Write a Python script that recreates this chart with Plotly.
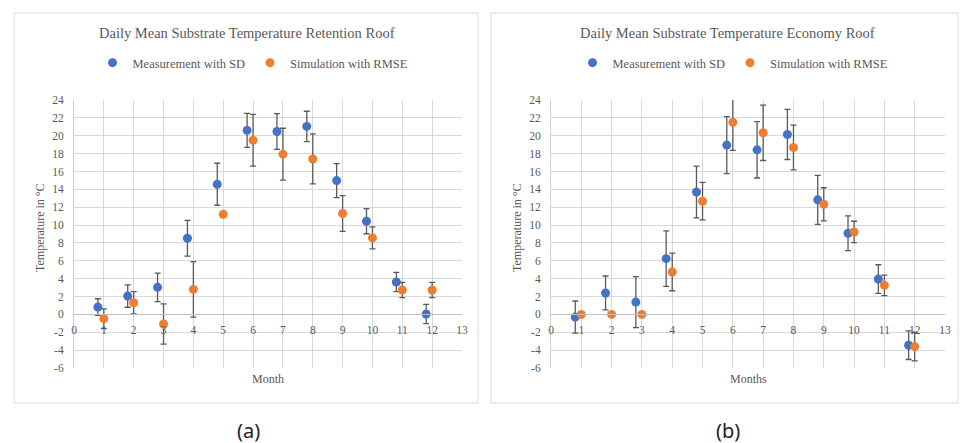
import plotly.graph_objects as go

# ---------------- data ----------------
months = [1, 2, 3, 4, 5, 6, 7, 8, 9, 10, 11, 12]
meas_months = [0.8, 1.8, 2.8, 3.8, 4.8, 5.8, 6.8, 7.8, 8.8, 9.8, 10.8, 11.8]

ret_meas = [0.82, 2.05, 3.03, 8.52, 14.57, 20.6, 20.48, 21.04, 14.98, 10.43, 3.63, 0.04]
ret_sd = [0.93, 1.25, 1.6, 2.0, 2.35, 1.9, 2.0, 1.7, 1.9, 1.4, 1.07, 1.08]
ret_sim = [-0.48, 1.31, -1.08, 2.8, 11.2, 19.5, 17.94, 17.4, 11.29, 8.56, 2.73, 2.73]
ret_rmse = [1.1, 1.25, 2.25, 3.1, 0.0, 2.9, 2.9, 2.8, 2.0, 1.23, 0.85, 0.85]

eco_meas = [-0.3, 2.4, 1.38, 6.24, 13.7, 18.95, 18.42, 20.14, 12.82, 9.08, 3.96, -3.45]
eco_sd = [1.8, 1.9, 2.85, 3.1, 2.9, 3.2, 3.15, 2.8, 2.75, 1.95, 1.6, 1.6]
eco_sim = [0.0, 0.0, 0.0, 4.75, 12.67, 21.5, 20.33, 18.68, 12.33, 9.23, 3.25, -3.6]
eco_rmse = [0.0, 0.0, 0.0, 2.1, 2.1, 3.15, 3.1, 2.5, 1.85, 1.2, 1.15, 1.6]

x_ticks = list(range(0, 14))
y_ticks = list(range(-6, 25, 2))

titles = ["Daily Mean Substrate Temperature Retention Roof",
          "Daily Mean Substrate Temperature Economy Roof"]
x_titles = ["Month", "Months"]
y_title = "Temperature in °C"
panel_labels = ["(a)", "(b)"]
series_names = ["Measurement with SD", "Simulation with RMSE"]

# ---------------- style ----------------
BLUE = "#4472C4"
ORANGE = "#ED7D31"
ERR = "#5a5a5a"
GRID = "#D9D9D9"
TXT = "#595959"
SERIF = "Liberation Serif, DejaVu Serif, serif"

W, H = 960, 443
def px(v):
    return v / W
def py(v):
    return 1 - v / H

top_px, bot_px = 100, 368
zero_px = 314
dom_x = [[px(74), px(462)], [px(551), px(945)]]
dom_y = [py(bot_px), py(top_px)]

fig = go.Figure()

sets = [(ret_meas, ret_sd, ret_sim, ret_rmse), (eco_meas, eco_sd, eco_sim, eco_rmse)]
for i, (m, sd, s, rm) in enumerate(sets):
    xa = "x" if i == 0 else "x2"
    ya = "y" if i == 0 else "y2"
    lg = "legend" if i == 0 else "legend2"
    fig.add_trace(go.Scatter(
        x=meas_months, y=m, mode="markers", name=series_names[0],
        marker=dict(color=BLUE, size=9),
        error_y=dict(type="data", array=sd, visible=True, color=ERR, thickness=1.3, width=3),
        xaxis=xa, yaxis=ya, legend=lg))
    fig.add_trace(go.Scatter(
        x=months, y=s, mode="markers", name=series_names[1],
        marker=dict(color=ORANGE, size=9),
        error_y=dict(type="data", array=rm, visible=True, color=ERR, thickness=1.3, width=3),
        xaxis=xa, yaxis=ya, legend=lg))

axis_common = dict(showgrid=True, gridcolor=GRID, gridwidth=1, zeroline=False, automargin=False,
                   tickfont=dict(family=SERIF, size=11.5, color=TXT))

for i in range(2):
    sx = "" if i == 0 else "2"
    fig.update_layout(**{
        f"xaxis{sx}": dict(axis_common, domain=dom_x[i], range=[0, 13],
                           tickmode="array", tickvals=x_ticks, ticktext=[str(t) for t in x_ticks],
                           anchor="free", position=py(zero_px),
                           showline=True, linecolor="#BFBFBF", linewidth=1,
                           ticks="", ticklabelstandoff=5),
        f"yaxis{sx}": dict(axis_common, domain=dom_y, range=[-6, 24],
                           tickmode="array", tickvals=y_ticks, ticktext=[str(t) for t in y_ticks],
                           anchor=f"x{sx}", showline=True, linecolor="#D0D0D0", linewidth=1,
                           ticks="", ticklabelstandoff=7),
    })

annotations = []
shapes = []
boxes = [(14, 478), (491, 958)]
title_cx = [247, 727]
for i in range(2):
    annotations.append(dict(text=titles[i], x=px(title_cx[i]), y=py(33), xref="paper", yref="paper",
                            showarrow=False, font=dict(family=SERIF, size=14.5, color=TXT),
                            xanchor="center", yanchor="middle"))
    annotations.append(dict(text=x_titles[i], x=(dom_x[i][0] + dom_x[i][1]) / 2, y=py(379),
                            xref="paper", yref="paper", showarrow=False,
                            font=dict(family=SERIF, size=12, color=TXT),
                            xanchor="center", yanchor="middle"))
    annotations.append(dict(text=y_title, x=px(40 if i == 0 else 517), y=py(228),
                            xref="paper", yref="paper", showarrow=False, textangle=-90,
                            font=dict(family=SERIF, size=12, color=TXT),
                            xanchor="center", yanchor="middle"))
    annotations.append(dict(text=panel_labels[i], x=px(248 if i == 0 else 728), y=py(430),
                            xref="paper", yref="paper", showarrow=False,
                            font=dict(family="Noto Sans, Open Sans, sans-serif", size=20, color="#222222"),
                            xanchor="center", yanchor="middle"))
    x0, x1 = boxes[i]
    shapes.append(dict(type="rect", xref="paper", yref="paper",
                       x0=px(x0), x1=px(x1), y0=py(403), y1=py(13),
                       line=dict(color=GRID, width=1)))

legend_common = dict(orientation="h", xanchor="center", yanchor="middle",
                     font=dict(family=SERIF, size=12.5, color=TXT),
                     bgcolor="rgba(0,0,0,0)", itemwidth=30, tracegroupgap=0)

fig.update_layout(
    width=W, height=H, margin=dict(l=0, r=0, t=0, b=0),
    paper_bgcolor="white", plot_bgcolor="white",
    showlegend=True,
    legend=dict(legend_common, x=px(253), y=py(63)),
    legend2=dict(legend_common, x=px(733), y=py(63)),
    annotations=annotations, shapes=shapes,
)

fig.write_html("out.html", config={"displayModeBar": False},
               post_script="document.body.style.margin='0';document.body.style.overflow='hidden';")
